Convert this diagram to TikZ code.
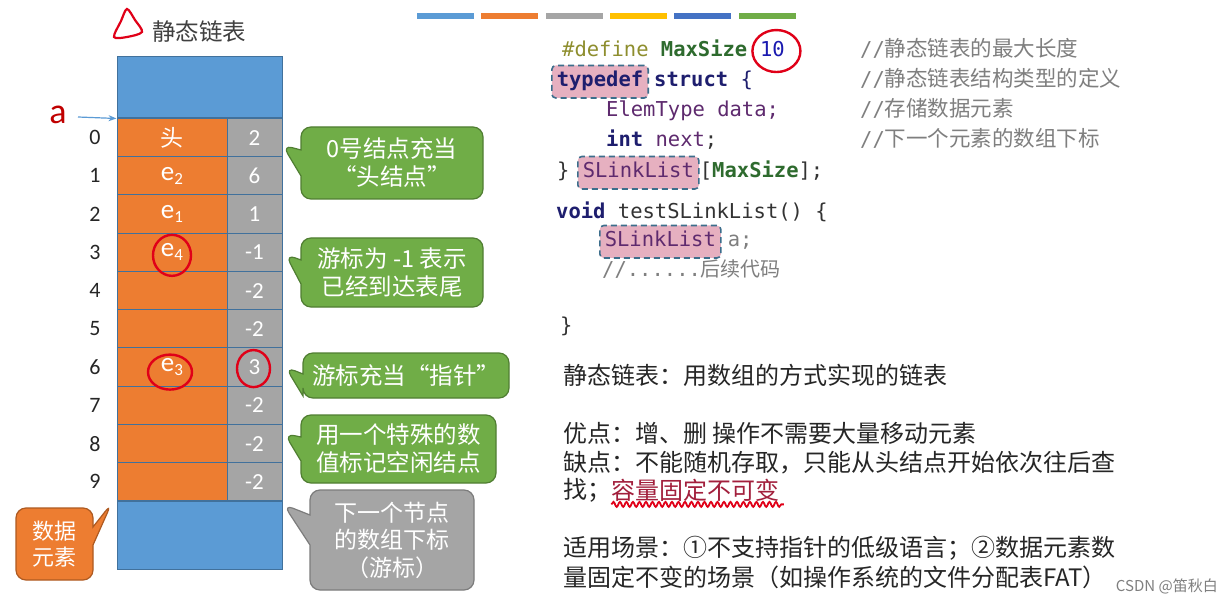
\documentclass[tikz,border=0pt]{standalone}
\usepackage{fontspec}
\setmainfont{Carlito}
\newfontfamily\cjk{Noto Sans CJK SC}
\newfontfamily\codefont{DejaVu Sans Mono}
\usetikzlibrary{positioning,calc,shapes.callouts,arrows.meta,decorations.pathmorphing}

\definecolor{blockblue}{HTML}{5B9BD5}
\definecolor{dataorange}{HTML}{ED7D31}
\definecolor{nextgray}{HTML}{A5A5A5}
\definecolor{cellline}{HTML}{41719C}
\definecolor{baryellow}{HTML}{FFC000}
\definecolor{barblue}{HTML}{4472C4}
\definecolor{notegreen}{HTML}{70AD47}
\definecolor{notegreenline}{HTML}{507E32}
\definecolor{notegrayline}{HTML}{7C7C7C}
\definecolor{noteorangeline}{HTML}{AE5A21}
\definecolor{penred}{HTML}{E00018}
\definecolor{ared}{HTML}{C00000}
\definecolor{cdef}{HTML}{8E8E2E}
\definecolor{cmac}{HTML}{2E6B2E}
\definecolor{cnum}{HTML}{1A1AB0}
\definecolor{ckw}{HTML}{1E1E6E}
\definecolor{cid}{HTML}{5E2A6E}
\definecolor{ctxt}{HTML}{333333}
\definecolor{ccom}{HTML}{7F7F7F}
\definecolor{hlpink}{HTML}{E6B0C0}
\definecolor{hlblue}{HTML}{3C6E8C}
\definecolor{capred}{HTML}{A21F3C}
\definecolor{bodytext}{HTML}{262626}
\definecolor{titlegray}{HTML}{404040}

\newcommand{\fsz}[2]{\fontsize{#1}{#2}\selectfont}
\newcommand{\esub}[1]{{\fsz{27}{28}e}\raisebox{-4pt}{\fsz{17}{17}#1}}

\tikzset{
  cellbox/.style={draw=cellline, line width=1pt, minimum height=38.25pt, inner sep=0pt, text=white, font=\fsz{23}{26}},
  datacell/.style={cellbox, fill=dataorange, minimum width=110pt},
  nextcell/.style={cellbox, fill=nextgray, minimum width=55pt},
  block/.style={fill=blockblue, draw=cellline, line width=1pt, minimum width=165pt, inner sep=0pt},
  idx/.style={text=bodytext, font=\fsz{22}{24}, inner sep=0pt},
  pen/.style={draw=penred, line width=2.4pt},
  note/.style={rectangle callout, rounded corners=10pt, line width=1.2pt, text=white, align=center, inner sep=0pt, font=\cjk\fsz{23.5}{28}},
  greennote/.style={note, fill=notegreen, draw=notegreenline},
  code/.style={font=\codefont\fsz{20.5}{24}, inner sep=0pt, anchor=base west, text=ctxt},
  bold/.style={font=\codefont\bfseries\fsz{20.5}{24}},
  hl/.style={code, fill=hlpink, draw=hlblue, dash pattern=on 6pt off 4pt, line width=1.6pt, rounded corners=4pt, inner xsep=5pt, inner ysep=6pt, text height=15.5pt, text depth=5pt},
  txt/.style={font=\cjk\fsz{24}{28}, text=bodytext, inner sep=0pt, anchor=west}
}

\begin{document}
\begin{tikzpicture}[x=1pt, y=-1pt]
\fill[white] (0,0) rectangle (1230,601);
\useasboundingbox (0,0) rectangle (1230,601);

% colour bars
\foreach \c [count=\k from 0] in {blockblue,dataorange,nextgray,baryellow,barblue,notegreen}
  \fill[\c] ({417+64.3*\k},13) rectangle +(57,6);

% title
\draw[pen, line width=2.2pt] plot[smooth cycle] coordinates {(127,9) (121,21) (114,37) (127,37) (142,32) (135,20)};
\node[font=\cjk\fsz{23.5}{28}, text=titlegray, anchor=west, inner sep=0pt] (title) at (152,32) {静态链表};

% array
\node[block, minimum height=61pt] (top) at (199.5,87.5) {};
\foreach \i/\d/\n in {0/{\cjk 头}/2, 1/\esub{2}/6, 2/\esub{1}/1, 3/\esub{4}/-1, 4/{}/-2,
                      5/{}/-2, 6/\esub{3}/3, 7/{}/-2, 8/{}/-2, 9/{}/-2} {
  \node[datacell] (d\i) at (172,{137.6+38.25*\i}) {\d};
  \node[nextcell] (g\i) at (254.5,{137.6+38.25*\i}) {\n};
  \node[idx] (i\i) at (95,{137.6+38.25*\i}) {\i};
}
\node[block, minimum height=68pt] (bot) at (199.5,535) {};

\node[font=\fsz{36}{40}, text=ared, inner sep=0pt] (alabel) at (58,115) {a};
\coordinate (astart) at (78,117);
\draw[blockblue, line width=1.2pt, -{Stealth[length=8pt,width=6pt]}] (astart) -- (top.south west);

\draw[pen] ($(d3.center)+(0,3)$) ellipse [x radius=19pt, y radius=20.5pt];
\draw[pen] ($(d6.center)+(-2,5)$) ellipse [x radius=22pt, y radius=17.5pt];
\draw[pen] ($(g6.center)+(-1,1.5)$) ellipse [x radius=16.5pt, y radius=18.5pt];

% callouts
\node[greennote, minimum width=182pt, minimum height=72pt, callout pointer width=26pt,
      callout absolute pointer={($(g0.east)+(0,7.5)$)}] (n0) at (392,163) {0号结点充当\\“头结点”};
\node[greennote, minimum width=182pt, minimum height=69pt, callout pointer width=24pt,
      callout absolute pointer={($(g3.east)+(3,2)$)}] (n3) at (392,272.5) {游标为 -1 表示\\已经到达表尾};
\node[greennote, minimum width=206pt, minimum height=45pt, callout pointer width=22pt,
      callout absolute pointer={($(g6.east)+(3,0)$)}] (n6) at (406,375.5) {游标充当“指针”};
\node[greennote, minimum width=195pt, minimum height=68pt, callout pointer width=24pt,
      callout absolute pointer={($(g8.east)+(2,-10)$)}] (n8) at (398.5,449) {用一个特殊的数\\值标记空闲结点};
\node[note, fill=nextgray, draw=notegrayline, minimum width=164pt, minimum height=100pt,
      font=\cjk\fsz{23}{27.5}, callout pointer width=30pt,
      callout absolute pointer={($(bot.north east)+(1,4)$)}] (nnext) at (392,540) {下一个节点\\的数组下标\\（游标）};
\node[note, fill=dataorange, draw=noteorangeline, minimum width=77pt, minimum height=72pt,
      font=\cjk\fsz{22}{26}, callout pointer width=18pt,
      callout absolute pointer={($(bot.north west)+(-5,3)$)}] (ndata) at (54.5,544) {数据\\元素};

% code
\node[code] (def) at (562,57) {\textcolor{cdef}{\#define} \textcolor{cmac}{\bfseries MaxSize}};
\node[code, text=cnum] (ten) at ([xshift=12.34pt]def.base east) {10};
\draw[pen] ($(ten.center)+(4,1.5)$) ellipse [x radius=24pt, y radius=21pt];
\node[hl, bold, text=ckw] (td) at (551,87) {typedef};
\node[code, text=ckw] (st) at ([xshift=5pt]td.base east) {\textbf{struct} \{};
\node[code, text=cid] (el) at (606,117) {ElemType data;};
\node[code] (nx) at (606,147) {\textcolor{ckw}{\bfseries int} \textcolor{cid}{next};};
\node[code] (cb) at (557,178) {\}};
\node[hl, text=cid] (sl) at (577,178) {SLinkList};
\node[code] (ms) at (sl.base east) {[\textcolor{cmac}{\bfseries MaxSize}];};
\node[code] (fn) at (556,219) {\textcolor{ckw}{\bfseries void} testSLinkList() \{};
\node[hl, text=cid] (sv) at (599,247) {SLinkList};
\node[code, text=ccom] (va) at ([xshift=6pt]sv.base east) {a;};
\node[code, text=ccom] (etc) at (602,277) {//......{\cjk\fsz{20}{24}后续代码}};
\node[code] (fe) at (560,332) {\}};
\foreach \y/\t in {57/静态链表的最大长度, 87/静态链表结构类型的定义, 117/存储数据元素, 147/下一个元素的数组下标}
  \node[code, text=ccom] (cm\y) at (860,\y) {//{\cjk\fsz{21.5}{26}\t}};

% notes
\node[txt] (l1) at (563,375) {静态链表：用数组的方式实现的链表};
\node[txt] (l2) at (563,433) {优点：增、删 操作不需要大量移动元素};
\node[txt] (l3) at (563,463) {缺点：不能随机存取，只能从头结点开始依次往后查};
\node[txt] (l4) at (563,490) {找；};
\node[txt, text=capred] (fix) at (l4.east) {容量固定不可变};
\draw[penred, line width=1.8pt, decorate, decoration={snake, segment length=6.5pt, amplitude=2.5pt}]
  ([yshift=-3pt]fix.south west) -- ([yshift=-3pt, xshift=4pt]fix.south east);
\node[txt] (l5) at (563,548) {适用场景：①不支持指针的低级语言；②数据元素数};
\node[txt] (l6) at (563,577) {量固定不变的场景（如操作系统的文件分配表FAT）};

\node[font=\cjk\fsz{15}{18}, text=ccom, anchor=east, inner sep=0pt] (mark) at (1218,586) {CSDN @笛秋白};
\end{tikzpicture}
\end{document}
